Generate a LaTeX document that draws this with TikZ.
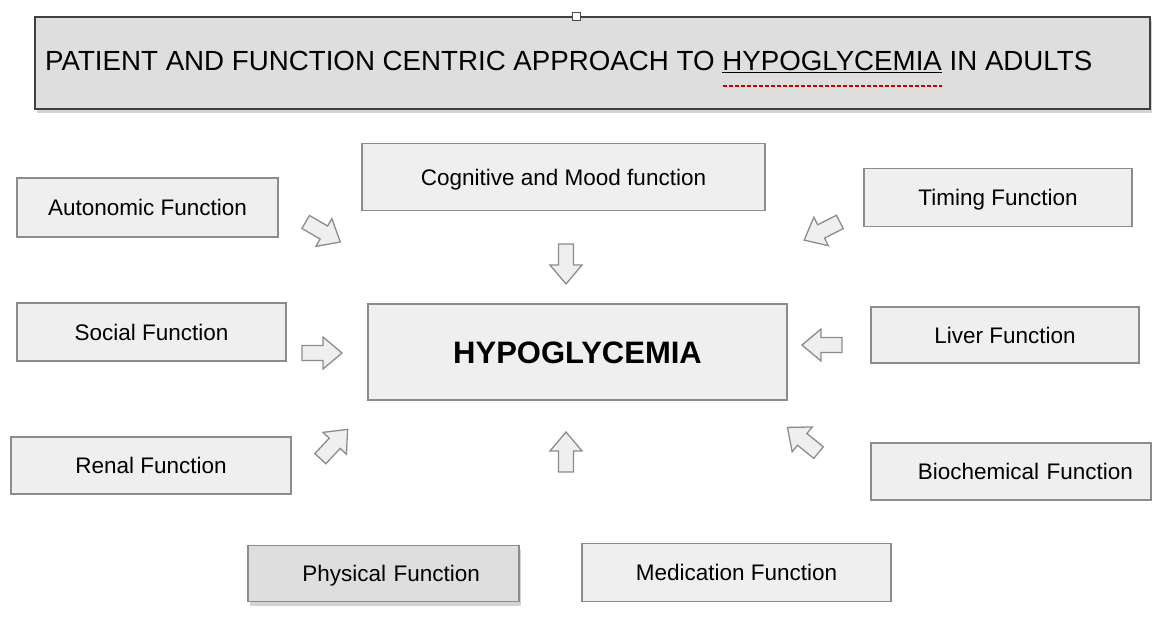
\documentclass[tikz,border=0pt]{standalone}
\usepackage{fontspec}
\setmainfont{Liberation Sans}
\usetikzlibrary{shadows}
\definecolor{boxfill}{HTML}{EFEFEF}
\definecolor{titlefill}{HTML}{DEDEDE}
\definecolor{boxline}{HTML}{8C8C8C}
\tikzset{
  fbox/.style={draw=boxline, line width=1.3pt, fill=boxfill, inner sep=0pt,
     font=\fontsize{22.5}{26}\selectfont, text height=16pt, text depth=0pt},
  shadowed/.style={drop shadow={opacity=0.35, shadow xshift=2pt, shadow yshift=-4pt}},
  barrow/.style={draw=boxline, line width=1.3pt, fill=boxfill, line join=miter},
  pics/blockarrow/.style={code={
    \draw[barrow] (-20,-7.5) -- (1,-7.5) -- (1,-16) -- (20,0) -- (1,16) -- (1,7.5) -- (-20,7.5) -- cycle;
  }}
}
\begin{document}
\begin{tikzpicture}[x=1pt,y=-1pt]
\useasboundingbox (0,0) rectangle (1166,622);
% title
\node[draw=black!75, line width=1.3pt, fill=titlefill, minimum width=1115pt, minimum height=92pt,
      inner sep=0pt, shadowed] (title) at (592.5,63) {};
\node[anchor=west, inner sep=0pt, font=\fontsize{27.7}{32}\selectfont] (titletext) at (45,62)
  {PATIENT AND FUNCTION CENTRIC APPROACH TO \underline{HYPOGLYCEMIA} IN ADULTS};
\node[draw=black!70, fill=white, line width=0.8pt, minimum size=8pt, inner sep=0pt] (handle) at (576,16) {};
\coordinate (sq1) at (723,86);
\coordinate (sq2) at (942,86);
\draw[red!80!black, line width=2pt, dash pattern=on 4pt off 2pt] (sq1) -- (sq2);

% boxes
\node[fbox, minimum width=261pt, minimum height=59pt] (auto) at (147.5,207.5) {Autonomic Function};
\node[fbox, minimum width=403pt, minimum height=67pt] (cog) at (563.5,177) {Cognitive and Mood function};
\node[fbox, minimum width=268pt, minimum height=58pt] (timing) at (998,197.5) {Timing Function};
\node[fbox, minimum width=269pt, minimum height=58pt] (social) at (151.5,332) {Social Function};
\node[fbox, minimum width=419pt, minimum height=96pt, font=\fontsize{31}{36}\selectfont\bfseries, text height=22.5pt] (hypo) at (577.5,352) {HYPOGLYCEMIA};
\node[fbox, minimum width=268pt, minimum height=56pt] (liver) at (1005,335) {Liver Function};
\node[fbox, minimum width=280pt, minimum height=57pt] (renal) at (151,465.5) {Renal Function};
\node[fbox, minimum width=280pt, minimum height=57pt, text width=244pt, align=right] (bio) at (1011,471.5) {Biochemical Function};
\node[fbox, fill=titlefill, shadowed, minimum width=271pt, minimum height=56pt, text width=193pt, align=right] (phys) at (383.5,573.5) {Physical Function};
\node[fbox, minimum width=309pt, minimum height=58pt] (med) at (736.5,572.5) {Medication Function};

% block arrows
\pic[rotate=-30] at (323,232) {blockarrow};
\pic at (322,353) {blockarrow};
\pic[rotate=47] at (334,444) {blockarrow};
\pic[rotate=-90] at (566,264) {blockarrow};
\pic[rotate=90] at (566,452) {blockarrow};
\pic[rotate=207] at (822,231) {blockarrow};
\pic[rotate=180] at (822,345) {blockarrow};
\pic[rotate=141] at (803,440) {blockarrow};
\end{tikzpicture}
\end{document}
